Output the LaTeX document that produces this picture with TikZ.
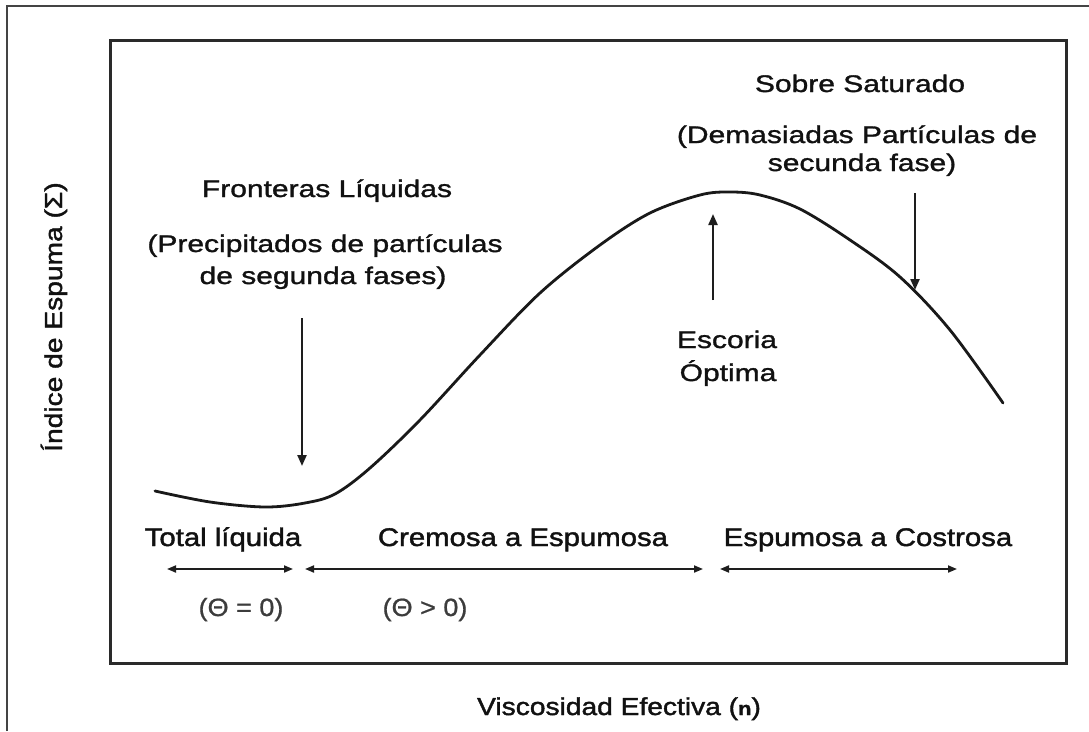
\documentclass[tikz,border=0pt]{standalone}
\usepackage{fontspec}
\setmainfont{Liberation Sans}
\newfontfamily\fa[FakeStretch=1.25,FakeBold=1.3]{Liberation Sans}
\newfontfamily\fb[FakeStretch=1.15,FakeBold=1.6]{Liberation Sans}
\newfontfamily\fc[FakeStretch=1.08,FakeBold=0.8]{Liberation Sans}
\usetikzlibrary{arrows.meta}
\definecolor{txt}{HTML}{111111}
\definecolor{framec}{HTML}{444444}
\definecolor{boxc}{HTML}{2A2A2A}
\definecolor{arrc}{HTML}{1E1E1E}
\definecolor{thetac}{HTML}{3C3C3C}
\tikzset{
  ann/.style={font=\fa\fontsize{24}{24}\selectfont, text=txt, inner sep=0pt, anchor=base},
  reg/.style={font=\fb\fontsize{25.5}{25.5}\selectfont, text=txt, inner sep=0pt, anchor=base},
  thetalbl/.style={font=\fc\fontsize{25}{25}\selectfont, text=thetac, inner sep=0pt, anchor=base},
  axislbl/.style={font=\fb\fontsize{24.5}{24.5}\selectfont, text=txt, inner sep=0pt, anchor=base},
  hint/.style={draw=arrc, line width=2.2pt, -{Triangle[length=11pt,width=9pt]}},
  spanarrow/.style={draw=arrc, line width=1.8pt, {Triangle[length=9pt,width=7pt]}-{Triangle[length=9pt,width=7pt]}},
  framestyle/.style={draw=framec, line width=1.5pt},
  boxstyle/.style={draw=boxc, line width=3pt},
  curvestyle/.style={draw=black!90, line width=2.8pt, line cap=round, line join=round}
}
\begin{document}
\begin{tikzpicture}[x=1pt,y=-1pt]
\useasboundingbox (0,0) rectangle (1089,731);
\fill[white] (0,0) rectangle (1089,731);
% frames
\draw[framestyle] (7,731) -- (7,6) -- (1089,6);
\draw[boxstyle] (110,40) rectangle (1066,663);
% curve
\draw[curvestyle] plot[smooth, tension=0.55] coordinates {
  (155,491) (210,502) (265,507) (305,503) (335,494) (370,468) (420,420)
  (480,355) (540,293) (600,245) (650,213) (700,195) (730,192) (760,195)
  (800,209) (850,240) (900,277) (950,330) (1003,403)};
% annotations
\node[ann] (fl) at (327,197) {Fronteras Líquidas};
\node[ann] (pp1) at (325,252) {(Precipitados de partículas};
\node[ann] (pp2) at (323,284) {de segunda fases)};
\coordinate (flA) at (302,318);
\coordinate (flB) at (302,466);
\draw[hint] (flA) -- (flB);

\node[ann] (ss) at (860,92) {Sobre Saturado};
\node[ann] (dp1) at (857,143) {(Demasiadas Partículas de};
\node[ann] (dp2) at (862,171) {secunda fase)};
\coordinate (ssA) at (915,193);
\coordinate (ssB) at (915,290);
\draw[hint] (ssA) -- (ssB);

\node[ann] (eo1) at (727,348) {Escoria};
\node[ann] (eo2) at (728,381) {Óptima};
\coordinate (eoA) at (713,300);
\coordinate (eoB) at (713,214);
\draw[hint] (eoA) -- (eoB);

% regions
\node[reg] (r1) at (223,546) {Total líquida};
\node[reg] (r2) at (523,546) {Cremosa a Espumosa};
\node[reg] (r3) at (868,546) {Espumosa a Costrosa};
\coordinate (s1a) at (167,569); \coordinate (s1b) at (293,569);
\coordinate (s2a) at (305,569); \coordinate (s2b) at (703,569);
\coordinate (s3a) at (720,569); \coordinate (s3b) at (957,569);
\draw[spanarrow] (s1a) -- (s1b);
\draw[spanarrow] (s2a) -- (s2b);
\draw[spanarrow] (s3a) -- (s3b);
\node[thetalbl] (t1) at (241,616) {(Θ = 0)};
\node[thetalbl] (t2) at (425,616) {(Θ > 0)};

% axis labels
\node[axislbl] (xl) at (619,715) {Viscosidad Efectiva ({\fontsize{19}{19}\selectfont\bfseries n})};
\node[axislbl, rotate=90] (yl) at (62,317) {Índice de Espuma (Σ)};
\end{tikzpicture}
\end{document}
